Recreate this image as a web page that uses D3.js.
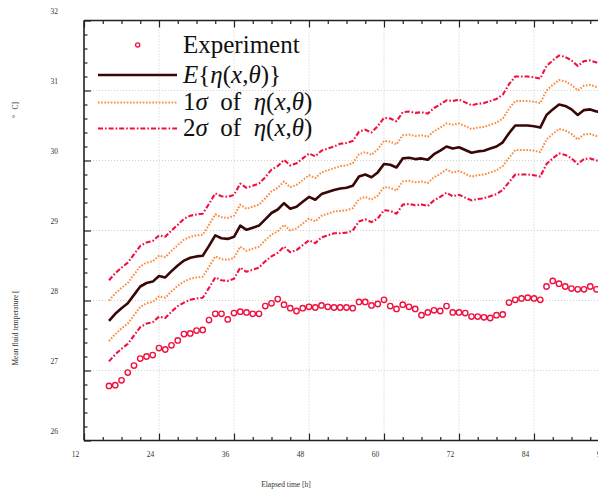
<!DOCTYPE html>
<html>
<head>
<meta charset="utf-8">
<script src="https://cdn.jsdelivr.net/npm/d3@7"></script>
<style>
  html, body { margin: 0; padding: 0; background: #fff; }
  svg { display: block; }
</style>
</head>
<body>
<svg id="chart" width="598" height="492"></svg>
<script>
// Elapsed time [h] of the hourly samples
const hours = [16,17,18,19,20,21,22,23,24,25,26,27,28,29,30,31,32,33,34,35,
  36,37,38,39,40,41,42,43,44,45,46,47,48,49,50,51,52,53,54,55,
  56,57,58,59,60,61,62,63,64,65,66,67,68,69,70,71,72,73,74,75,
  76,77,78,79,80,81,82,83,84,85,86,87,88,89,90,91,92,93,94,95];

// Measured mean fluid temperature [°C], hours 16..94
const experiment = [26.78,26.79,26.86,26.97,27.07,27.17,27.20,27.22,27.32,27.30,
  27.36,27.43,27.52,27.53,27.57,27.58,27.72,27.81,27.81,27.73,
  27.82,27.84,27.83,27.81,27.81,27.92,27.96,28.02,27.94,27.89,
  27.85,27.89,27.91,27.90,27.93,27.91,27.90,27.90,27.90,27.89,
  27.98,27.98,27.93,27.95,28.01,27.92,27.88,27.94,27.91,27.88,
  27.79,27.83,27.86,27.85,27.92,27.83,27.83,27.82,27.77,27.77,
  27.76,27.75,27.79,27.80,27.97,28.01,28.03,28.04,28.03,28.01,
  28.20,28.28,28.24,28.20,28.17,28.16,28.16,28.20,28.16];

// Expected model response E{η(x,θ)} [°C], hours 16..95
const meanTemp = [27.71,27.81,27.89,27.96,28.08,28.20,28.25,28.27,28.35,28.33,
  28.42,28.50,28.57,28.61,28.63,28.64,28.78,28.93,28.89,28.88,
  28.91,29.07,29.01,29.04,29.07,29.16,29.25,29.30,29.39,29.31,
  29.34,29.41,29.48,29.44,29.52,29.55,29.58,29.60,29.61,29.64,
  29.77,29.80,29.76,29.83,29.95,29.94,29.90,30.03,30.04,30.02,
  30.03,30.01,30.09,30.14,30.20,30.17,30.19,30.15,30.11,30.13,
  30.14,30.17,30.20,30.26,30.39,30.50,30.50,30.50,30.49,30.47,
  30.65,30.73,30.80,30.78,30.73,30.65,30.72,30.73,30.70,30.69];

// Standard deviation of η(x,θ) [°C], hours 16..95
const sigma = [0.29,0.29,0.29,0.29,0.29,0.29,0.29,0.29,0.29,0.29,
  0.29,0.29,0.30,0.30,0.30,0.30,0.30,0.30,0.30,0.30,
  0.30,0.30,0.30,0.30,0.30,0.30,0.31,0.31,0.31,0.31,
  0.31,0.31,0.31,0.31,0.31,0.31,0.31,0.32,0.32,0.32,
  0.32,0.32,0.32,0.33,0.33,0.33,0.33,0.33,0.33,0.33,
  0.33,0.33,0.33,0.33,0.33,0.34,0.34,0.34,0.34,0.34,
  0.34,0.34,0.34,0.34,0.35,0.35,0.35,0.35,0.35,0.35,
  0.35,0.35,0.35,0.35,0.35,0.35,0.35,0.35,0.35,0.35];

const xMajor = [12,24,36,48,60,72,84,96];
const xMinor = [15,18,21,27,30,33,39,42,45,51,54,57,63,66,69,75,78,81,87,90,93];
const yMajor = [26,27,28,29,30,31,32];
const yMinor = [26.2,26.4,26.6,26.8,27.2,27.4,27.6,27.8,28.2,28.4,28.6,28.8,
  29.2,29.4,29.6,29.8,30.2,30.4,30.6,30.8,31.2,31.4,31.6,31.8];

const colMean = "#3a0707";
const col1s = "#fb8a3c";
const col2s = "#f0103f";
const colExp = "#f0103f";
const serif = "'Liberation Serif', 'Times New Roman', serif";

const svg = d3.select("#chart");
const plotL = 84, plotR = 609, plotT = 20.5, plotB = 440.5;

const x = d3.scaleLinear().domain([12, 96]).range([plotL, plotR]);
const y = d3.scaleLinear().domain([26, 32]).range([plotB, plotT]);

// dotted grid at the major ticks
const grid = svg.append("g").attr("stroke", "#c8c8c8").attr("stroke-width", 0.9)
  .attr("stroke-dasharray", "1,2");
grid.selectAll("line.gx").data(xMajor.slice(1)).join("line").attr("class", "gx")
  .attr("x1", d => x(d)).attr("x2", d => x(d)).attr("y1", plotT).attr("y2", plotB);
grid.selectAll("line.gy").data(yMajor.slice(1, -1)).join("line").attr("class", "gy")
  .attr("x1", plotL).attr("x2", plotR).attr("y1", d => y(d)).attr("y2", d => y(d));

// series
const pts = hours.map((h, i) => ({ h, m: meanTemp[i], s: sigma[i] }));
const band = k => d3.line().x(d => x(d.h)).y(d => y(d.m + k * d.s));

const lines = svg.append("g").attr("fill", "none").attr("stroke-linejoin", "round");
[-2, 2].forEach(k => lines.append("path").datum(pts).attr("d", band(k))
  .attr("stroke", col2s).attr("stroke-width", 2.1).attr("stroke-dasharray", "5,2,1.6,2"));
[-1, 1].forEach(k => lines.append("path").datum(pts).attr("d", band(k))
  .attr("stroke", col1s).attr("stroke-width", 2).attr("stroke-dasharray", "1.6,1.6"));
lines.append("path").datum(pts).attr("d", band(0))
  .attr("stroke", colMean).attr("stroke-width", 2.6);

svg.append("g").selectAll("circle").data(experiment).join("circle")
  .attr("cx", (d, i) => x(hours[i])).attr("cy", d => y(d)).attr("r", 2.7)
  .attr("fill", "none").attr("stroke", colExp).attr("stroke-width", 1.4);

// axes: inward ticks, labels set slightly up and left of their ticks
function styleAxis(g) {
  g.select(".domain").remove();
  g.selectAll(".tick line").attr("stroke", "#222").attr("stroke-width", 1.2);
}
const tickFont = g => g.selectAll("text").attr("font-family", serif)
  .attr("font-size", 7.5).attr("fill", "#333");

svg.append("g").attr("transform", `translate(0,${plotB})`)
  .call(d3.axisBottom(x).tickValues(xMinor).tickSize(-3.5).tickFormat(""))
  .call(styleAxis);
svg.append("g").attr("transform", `translate(0,${plotB})`)
  .call(d3.axisBottom(x).tickValues(xMajor).tickSize(-7).tickFormat(d3.format("d")))
  .call(styleAxis).call(tickFont)
  .call(g => g.selectAll("text").attr("x", -9).attr("y", 14.5).attr("dy", "0.32em"));

svg.append("g").attr("transform", `translate(0,${plotT})`)
  .call(d3.axisTop(x).tickValues(xMinor).tickSize(-3.5).tickFormat(""))
  .call(styleAxis);
svg.append("g").attr("transform", `translate(0,${plotT})`)
  .call(d3.axisTop(x).tickValues(xMajor).tickSize(-7).tickFormat(""))
  .call(styleAxis);

svg.append("g").attr("transform", `translate(${plotL},0)`)
  .call(d3.axisLeft(y).tickValues(yMinor).tickSize(-3.5).tickFormat(""))
  .call(styleAxis);
svg.append("g").attr("transform", `translate(${plotL},0)`)
  .call(d3.axisLeft(y).tickValues(yMajor).tickSize(-7).tickFormat(d3.format("d")))
  .call(styleAxis).call(tickFont)
  .call(g => g.selectAll("text").attr("x", -26).attr("y", -9.5).attr("dy", "0.32em"));

// frame
const frame = svg.append("g").attr("stroke", "#222").attr("stroke-width", 1.6);
frame.append("line").attr("x1", plotL).attr("x2", plotL).attr("y1", plotT).attr("y2", plotB);
frame.append("line").attr("x1", plotL).attr("x2", plotR).attr("y1", plotT).attr("y2", plotT);
frame.append("line").attr("x1", plotL).attr("x2", plotR).attr("y1", plotB).attr("y2", plotB);
frame.append("line").attr("x1", plotR).attr("x2", plotR).attr("y1", plotT).attr("y2", plotB);

// axis titles
svg.append("text").attr("x", 286).attr("y", 487).attr("text-anchor", "middle")
  .attr("font-family", serif).attr("font-size", 7.5).attr("fill", "#333")
  .text("Elapsed time [h]");
svg.append("text").attr("transform", "translate(18,328) rotate(-90)")
  .attr("text-anchor", "middle").attr("font-family", serif).attr("font-size", 7.5)
  .attr("fill", "#333").text("Mean fluid temperature [");
svg.append("text").attr("transform", "translate(18,110) rotate(-90)")
  .attr("text-anchor", "middle").attr("font-family", serif).attr("font-size", 7.5)
  .attr("fill", "#333").attr("xml:space", "preserve").text("°   C]");

// legend
const leg = svg.append("g");
const legRows = [
  { kind: "marker", y: 45, parts: [["Experiment", false]] },
  { kind: "mean", y: 75, parts: [["E", true], ["{", false], ["η", true], ["(", false], ["x", true], [",", false], ["θ", true], [")}", false]] },
  { kind: "s1", y: 102.5, parts: [["1", false], ["σ", true], ["  of  ", false], ["η", true], ["(", false], ["x", true], [",", false], ["θ", true], [")", false]] },
  { kind: "s2", y: 128.5, parts: [["2", false], ["σ", true], ["  of  ", false], ["η", true], ["(", false], ["x", true], [",", false], ["θ", true], [")", false]] }
];
legRows.forEach(r => {
  if (r.kind === "marker") {
    leg.append("circle").attr("cx", 137.7).attr("cy", r.y).attr("r", 2.1)
      .attr("fill", "none").attr("stroke", colExp).attr("stroke-width", 1.3);
  } else {
    const ln = leg.append("line").attr("x1", 98).attr("x2", 177).attr("y1", r.y).attr("y2", r.y);
    if (r.kind === "mean") ln.attr("stroke", colMean).attr("stroke-width", 2.6);
    if (r.kind === "s1") ln.attr("stroke", col1s).attr("stroke-width", 2).attr("stroke-dasharray", "1.6,1.6");
    if (r.kind === "s2") ln.attr("stroke", col2s).attr("stroke-width", 2.1).attr("stroke-dasharray", "5,2,1.6,2");
  }
  const t = leg.append("text").attr("x", 183).attr("y", r.y + 7.5)
    .attr("font-family", serif).attr("font-size", 25).attr("fill", "#111")
    .attr("xml:space", "preserve");
  r.parts.forEach(([s, it]) => t.append("tspan").attr("font-style", it ? "italic" : "normal").text(s));
});
</script>
</body>
</html>
